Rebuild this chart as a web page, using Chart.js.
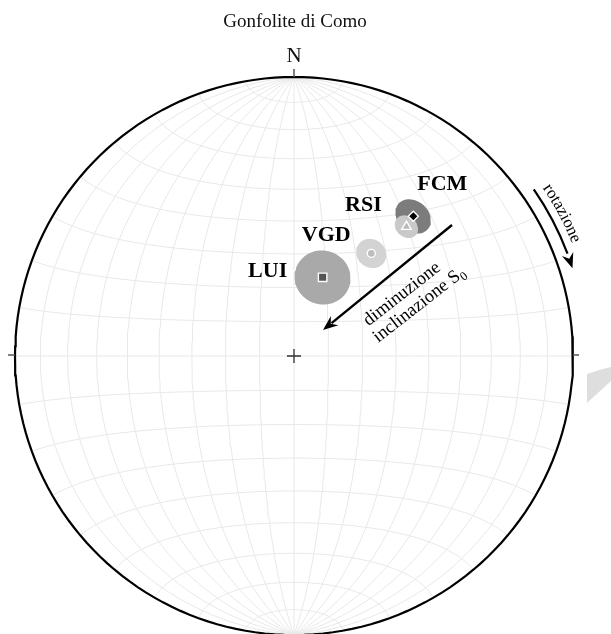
<!DOCTYPE html>
<html>
<head>
<meta charset="utf-8">
<title>Gonfolite di Como</title>
<script src="https://cdn.jsdelivr.net/npm/chart.js@4.4.0/dist/chart.umd.min.js"></script>
<style>
  html, body { margin: 0; padding: 0; background: #fff; }
  #wrap { width: 611px; height: 634px; position: relative; }
</style>
</head>
<body>
<div id="wrap"><canvas id="net"></canvas></div>
<script>
// Direzioni medie (emisfero inferiore) e cono di confidenza alpha95
const sites = ['LUI', 'VGD', 'RSI', 'FCM'];
const declination = [20, 37, 41, 40.5];
const inclination = [65.5, 52, 38.5, 34.5];
const alpha95 = [8, 4.3, 3.3, 5];

const titleText = 'Gonfolite di Como';
const gridStep = 10; // reticolo di Schmidt ogni 10 gradi

// Stili per sito
const coneColors = ['#a9a9a9', '#d3d3d3', '#c9c9c9', '#7c7c7c'];
const markerStyles = ['rect', 'circle', 'triangle', 'rectRot'];
const markerFill = ['#555555', '#bdbdbd', '#b9b9b9', '#000000'];
const markerRadius = [6, 4, 5.5, 5];
const coneOrder = [4, 3, 1, 2];
const labelOffset = [[-55, -6], [-45, -18], [-43, -21], [29, -32]];

const rad = Math.PI / 180;

// Proiezione equal-area (Schmidt), emisfero inferiore: e = est, n = nord, d = giù
function project(e, n, d) {
    const k = 1 / Math.sqrt(1 + d);
    return { x: e * k, y: n * k };
}

function dirVector(dec, inc) {
    return [
        Math.cos(inc * rad) * Math.sin(dec * rad),
        Math.cos(inc * rad) * Math.cos(dec * rad),
        Math.sin(inc * rad)
    ];
}

// Punto del reticolo (latitudine/longitudine rispetto all'asse N-S)
function netPoint(lat, lon) {
    return project(
        Math.cos(lat * rad) * Math.sin(lon * rad),
        Math.sin(lat * rad),
        Math.cos(lat * rad) * Math.cos(lon * rad)
    );
}

function gridLine(pts) {
    return {
        data: pts,
        showLine: true,
        pointRadius: 0,
        borderColor: '#e8e8e8',
        borderWidth: 1,
        fill: false,
        order: 10
    };
}

function buildGrid() {
    const sets = [];
    for (let lon = -90 + gridStep; lon < 90; lon += gridStep) {
        const pts = [];
        for (let lat = -90; lat <= 90; lat += 2) pts.push(netPoint(lat, lon));
        sets.push(gridLine(pts));
    }
    for (let lat = -90 + gridStep; lat < 90; lat += gridStep) {
        const pts = [];
        for (let lon = -90; lon <= 90; lon += 2) pts.push(netPoint(lat, lon));
        sets.push(gridLine(pts));
    }
    return sets;
}

function primitive() {
    const pts = [];
    for (let a = 0; a <= 360; a += 2) pts.push({ x: Math.sin(a * rad), y: Math.cos(a * rad) });
    return {
        data: pts,
        showLine: true,
        pointRadius: 0,
        borderColor: '#000',
        borderWidth: 2.2,
        fill: false,
        order: 5
    };
}

// Cono di confidenza proiettato
function coneOutline(dec, inc, a95) {
    const m = dirVector(dec, inc);
    const u = dirVector(dec, inc - 90);
    const v = [Math.cos(dec * rad), -Math.sin(dec * rad), 0];
    const pts = [];
    for (let t = 0; t <= 360; t += 5) {
        const c = Math.cos(a95 * rad), s = Math.sin(a95 * rad);
        const ct = Math.cos(t * rad), st = Math.sin(t * rad);
        const p = [0, 1, 2].map(i => c * m[i] + s * (ct * u[i] + st * v[i]));
        pts.push(project(p[0], p[1], p[2]));
    }
    return pts;
}

function meanPoint(i) {
    const m = dirVector(declination[i], inclination[i]);
    return project(m[0], m[1], m[2]);
}

const datasets = buildGrid();
datasets.push(primitive());

sites.forEach((name, i) => {
    datasets.push({
        label: name + ' a95',
        data: coneOutline(declination[i], inclination[i], alpha95[i]),
        showLine: true,
        pointRadius: 0,
        borderWidth: 0,
        borderColor: coneColors[i],
        backgroundColor: coneColors[i],
        fill: 'shape',
        order: coneOrder[i]
    });
    datasets.push({
        label: name,
        data: [meanPoint(i)],
        pointStyle: markerStyles[i],
        pointRadius: markerRadius[i],
        pointBackgroundColor: markerFill[i],
        pointBorderColor: '#ffffff',
        pointBorderWidth: 1.4,
        order: 0
    });
});

// Testi, frecce e segni di riferimento
const decorations = {
    id: 'decorations',
    afterDraw(chart) {
        const ctx = chart.ctx;
        const xs = chart.scales.x, ys = chart.scales.y;
        const cx = xs.getPixelForValue(0), cy = ys.getPixelForValue(0);
        const R = xs.getPixelForValue(1) - cx;
        const serif = '"Liberation Serif", "Times New Roman", serif';
        ctx.save();

        // titolo e N
        ctx.fillStyle = '#111';
        ctx.textAlign = 'center';
        ctx.textBaseline = 'alphabetic';
        ctx.font = '19px ' + serif;
        ctx.fillText(titleText, cx + 1, 27);
        ctx.font = '21px ' + serif;
        ctx.fillText('N', cx, cy - R - 15);

        // tacche N, W, E e croce centrale
        ctx.strokeStyle = '#555';
        ctx.lineWidth = 1.5;
        ctx.beginPath();
        ctx.moveTo(cx, cy - R - 8); ctx.lineTo(cx, cy - R);
        ctx.moveTo(cx - R - 7, cy - 1); ctx.lineTo(cx - R, cy - 1);
        ctx.moveTo(cx + R, cy - 1); ctx.lineTo(cx + R + 6, cy - 1);
        ctx.stroke();
        ctx.strokeStyle = '#333';
        ctx.lineWidth = 1.3;
        ctx.beginPath();
        ctx.moveTo(cx - 7, cy); ctx.lineTo(cx + 7, cy);
        ctx.moveTo(cx, cy - 7); ctx.lineTo(cx, cy + 7);
        ctx.stroke();

        // etichette dei siti
        ctx.fillStyle = '#000';
        ctx.font = 'bold 22px ' + serif;
        ctx.textBaseline = 'middle';
        sites.forEach((name, i) => {
            const p = meanPoint(i);
            const px = xs.getPixelForValue(p.x), py = ys.getPixelForValue(p.y);
            ctx.fillText(name, px + labelOffset[i][0], py + labelOffset[i][1]);
        });

        // freccia diminuzione inclinazione
        const ax = cx + 158, ay = cy - 131, tx = cx + 29, ty = cy - 26;
        drawArrow(ctx, ax, ay, tx, ty);
        const ang = Math.atan2(ay - ty, ax - tx);
        ctx.save();
        ctx.translate(cx + 111, cy - 58);
        ctx.rotate(ang + 0.02);
        ctx.font = '18.5px ' + serif;
        ctx.textBaseline = 'alphabetic';
        ctx.textAlign = 'center';
        ctx.fillText('diminuzione', 0, 0);
        const w1 = ctx.measureText('inclinazione S').width;
        ctx.font = '12.5px ' + serif;
        const w2 = ctx.measureText('0').width;
        const x0 = -(w1 + w2) / 2 + 7;
        ctx.font = '18.5px ' + serif;
        ctx.textAlign = 'left';
        ctx.fillText('inclinazione S', x0, 19);
        ctx.font = '12.5px ' + serif;
        ctx.fillText('0', x0 + w1, 23);
        ctx.restore();

        // freccia curva di rotazione
        const ra = 292 / 279 * R;
        const a0 = 55.2, a1 = 69.5, aTip = 72.5;
        ctx.strokeStyle = '#000';
        ctx.lineWidth = 2.2;
        ctx.beginPath();
        ctx.arc(cx, cy, ra, (a0 - 90) * rad, (a1 - 90) * rad);
        ctx.stroke();
        const ex = cx + ra * Math.sin(aTip * rad), ey = cy - ra * Math.cos(aTip * rad);
        const bx = cx + ra * Math.sin((aTip - 3.2) * rad), by = cy - ra * Math.cos((aTip - 3.2) * rad);
        drawHead(ctx, bx, by, ex, ey);

        // testo "rotazione" lungo l'arco
        ctx.font = '17px ' + serif;
        ctx.textAlign = 'left';
        ctx.textBaseline = 'alphabetic';
        const word = 'rotazione';
        const rt = 300 / 279 * R;
        const total = ctx.measureText(word).width;
        let az = 62 * rad - total / 2 / rt;
        for (const ch of word) {
            const w = ctx.measureText(ch).width;
            ctx.save();
            ctx.translate(cx + rt * Math.sin(az), cy - rt * Math.cos(az));
            ctx.rotate(az);
            ctx.fillText(ch, 0, 0);
            ctx.restore();
            az += w / rt;
        }

        // segno grigio sul bordo destro
        ctx.fillStyle = '#dedede';
        ctx.beginPath();
        ctx.moveTo(587, 374);
        ctx.quadraticCurveTo(598, 370, 611, 367);
        ctx.lineTo(611, 381);
        ctx.lineTo(587, 403);
        ctx.closePath();
        ctx.fill();

        ctx.restore();
    }
};

function drawHead(ctx, fx, fy, tx, ty) {
    const a = Math.atan2(ty - fy, tx - fx);
    const L = 15, W = 6;
    ctx.fillStyle = '#000';
    ctx.beginPath();
    ctx.moveTo(tx, ty);
    ctx.lineTo(tx - L * Math.cos(a) + W * Math.sin(a), ty - L * Math.sin(a) - W * Math.cos(a));
    ctx.lineTo(tx - 10 * Math.cos(a), ty - 10 * Math.sin(a));
    ctx.lineTo(tx - L * Math.cos(a) - W * Math.sin(a), ty - L * Math.sin(a) + W * Math.cos(a));
    ctx.closePath();
    ctx.fill();
}

function drawArrow(ctx, fx, fy, tx, ty) {
    const a = Math.atan2(ty - fy, tx - fx);
    ctx.strokeStyle = '#000';
    ctx.lineWidth = 2.4;
    ctx.beginPath();
    ctx.moveTo(fx, fy);
    ctx.lineTo(tx - 11 * Math.cos(a), ty - 11 * Math.sin(a));
    ctx.stroke();
    drawHead(ctx, fx, fy, tx, ty);
}

// Scale: centro a (294, 356), raggio 279 px
const cxPix = 294, cyPix = 356, radiusPix = 279, W = 611, H = 634;

new Chart(document.getElementById('net'), {
    type: 'scatter',
    data: { datasets: datasets },
    options: {
        responsive: true,
        maintainAspectRatio: false,
        animation: false,
        events: [],
        layout: { padding: 0, autoPadding: false },
        plugins: {
            legend: { display: false },
            tooltip: { enabled: false },
            title: { display: false }
        },
        elements: { line: { tension: 0 } },
        scales: {
            x: { type: 'linear', display: false, min: -cxPix / radiusPix, max: (W - cxPix) / radiusPix },
            y: { type: 'linear', display: false, min: -(H - cyPix) / radiusPix, max: cyPix / radiusPix }
        }
    },
    plugins: [decorations]
});
</script>
</body>
</html>
